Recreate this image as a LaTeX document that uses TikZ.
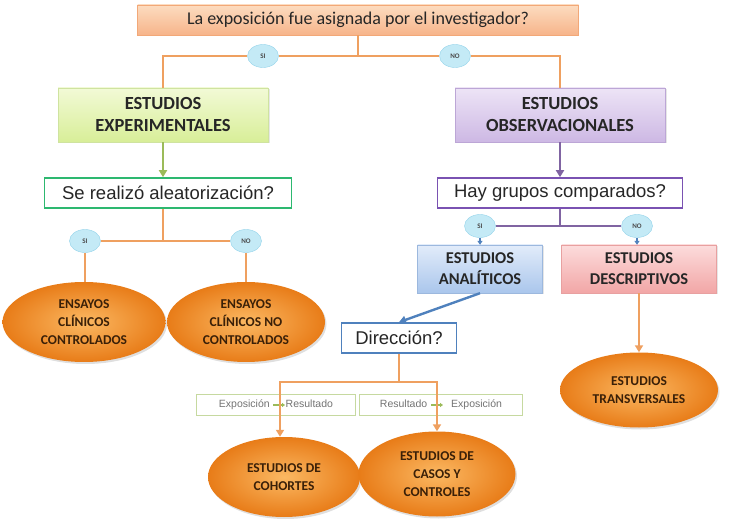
\documentclass[tikz,border=0pt]{standalone}
\usepackage{fontspec}
\setmainfont{Carlito}
\newfontfamily\arialfont{Liberation Sans}
\usetikzlibrary{shapes.geometric, shadows, arrows.meta}

\definecolor{peachtop}{HTML}{FCDCC0}
\definecolor{peachbot}{HTML}{F7B48A}
\definecolor{peachedge}{HTML}{F2A878}
\definecolor{linkorange}{HTML}{EFA060}
\definecolor{bubblefill}{HTML}{C4EAF6}
\definecolor{bubbleedge}{HTML}{93D3EA}
\definecolor{limetop}{HTML}{F2FAD6}
\definecolor{limebot}{HTML}{D8EE98}
\definecolor{limeedge}{HTML}{CFE3A0}
\definecolor{lilactop}{HTML}{EDE4F6}
\definecolor{lilacbot}{HTML}{CDB8E4}
\definecolor{lilacedge}{HTML}{BCA6D6}
\definecolor{skytop}{HTML}{E2ECFA}
\definecolor{skybot}{HTML}{AAC6EC}
\definecolor{skyedge}{HTML}{9CB8DE}
\definecolor{rosetop}{HTML}{FCDCDC}
\definecolor{rosebot}{HTML}{F2A6A6}
\definecolor{roseedge}{HTML}{E8A0A0}
\definecolor{leafgreen}{HTML}{9BBB59}
\definecolor{askgreen}{HTML}{2DB870}
\definecolor{plum}{HTML}{8064A2}
\definecolor{askplum}{HTML}{7A52B2}
\definecolor{steel}{HTML}{4F81BD}
\definecolor{palegreen}{HTML}{C6D9A0}
\definecolor{ovalin}{HTML}{FBB862}
\definecolor{ovalout}{HTML}{E87C18}
\definecolor{ovaltext}{HTML}{3A2008}

\begin{document}
\begin{tikzpicture}[x=1pt, y=-1pt,
    topbox/.style={rectangle, draw=peachedge, top color=peachtop, bottom color=peachbot,
      minimum width=441pt, minimum height=30pt, font=\fontsize{18}{21}\selectfont, text=black!85},
    studybox/.style={rectangle, align=center, inner sep=0pt,
      text=black!85,
      drop shadow={opacity=0.2, shadow xshift=1.5pt, shadow yshift=-1.5pt}},
    askbox/.style={rectangle, draw, line width=1.6pt, fill=white, minimum height=30pt,
      inner sep=0pt, font=\arialfont\fontsize{18.5}{21}\selectfont, text=black!85},
    yesno/.style={ellipse, draw=bubbleedge, fill=bubblefill, minimum width=31pt,
      minimum height=23pt, inner sep=0pt, font=\bfseries\fontsize{7}{8}\selectfont, text=black!70},
    outcome/.style={ellipse, inner color=ovalin, outer color=ovalout, align=center,
      inner sep=0pt, font=\bfseries\fontsize{13.5}{18}\selectfont, text=ovaltext,
      drop shadow={opacity=0.25, shadow xshift=1.5pt, shadow yshift=-2pt}},
    dirbox/.style={rectangle, draw=palegreen, line width=1pt, fill=white,
      minimum height=20pt, font=\arialfont\fontsize{10.5}{12}\selectfont, text=black!55},
    link/.style={draw=linkorange, line width=2.6pt},
    tip/.style={-{Triangle[length=7pt, width=8pt]}}
  ]
  \useasboundingbox (0,0) rectangle (734,521);

  % Question at the top
  \node[topbox] (expo) at (358,20) {La exposición fue asignada por el investigador?};

  % Experimental / observational
  \node[studybox, draw=limeedge, top color=limetop, bottom color=limebot,
    minimum width=210pt, minimum height=54pt, font=\bfseries\fontsize{18.5}{22}\selectfont]
    (expe) at (163,115) {ESTUDIOS\\EXPERIMENTALES};
  \node[studybox, draw=lilacedge, top color=lilactop, bottom color=lilacbot,
    minimum width=210pt, minimum height=54pt, font=\bfseries\fontsize{18.5}{22}\selectfont]
    (obse) at (560,115) {ESTUDIOS\\OBSERVACIONALES};

  \node[yesno] (si1) at (263,56) {SI};
  \node[yesno] (no1) at (455,56) {NO};

  % Second level questions
  \node[askbox, draw=askgreen, minimum width=247pt] (alea) at (168,193) {Se realizó aleatorización?};
  \node[askbox, draw=askplum, minimum width=245pt] (grup) at (560,193) {Hay grupos comparados?};

  \node[yesno] (si2) at (85,241) {SI};
  \node[yesno] (no2) at (246,241) {NO};
  \node[yesno] (si3) at (480,226) {SI};
  \node[yesno] (no3) at (637,226) {NO};

  % Clinical trials
  \node[outcome, minimum width=163pt, minimum height=80pt] (ecc) at (84,322) {ENSAYOS\\CLÍNICOS\\CONTROLADOS};
  \node[outcome, minimum width=158pt, minimum height=80pt] (ecnc) at (246,322) {ENSAYOS\\CLÍNICOS NO\\CONTROLADOS};

  % Analytic / descriptive
  \node[studybox, draw=skyedge, top color=skytop, bottom color=skybot,
    minimum width=125pt, minimum height=48pt, font=\bfseries\fontsize{16.5}{21}\selectfont]
    (anal) at (480,269) {ESTUDIOS\\ANALÍTICOS};
  \node[studybox, draw=roseedge, top color=rosetop, bottom color=rosebot,
    minimum width=155pt, minimum height=48pt, font=\bfseries\fontsize{16.5}{21}\selectfont]
    (desc) at (639,269) {ESTUDIOS\\DESCRIPTIVOS};

  \node[askbox, draw=steel, minimum width=115pt] (dire) at (399,338) {Dirección?};

  \node[outcome, minimum width=158pt, minimum height=75pt] (tran) at (639,390) {ESTUDIOS\\TRANSVERSALES};

  % Direction labels
  \node[dirbox, minimum width=159pt] (exre) at (276,405) {Exposición\hspace{16pt}Resultado};
  \node[dirbox, minimum width=163pt] (reex) at (441,405) {Resultado\hspace{24pt}Exposición};
  \draw[leafgreen, line width=1.4pt, -{Triangle[length=3pt, width=4pt]}]
    ([xshift=-3pt]exre.center) -- ([xshift=9pt]exre.center);
  \draw[leafgreen, line width=1.4pt, -{Triangle[length=3pt, width=4pt]}]
    ([xshift=-10pt]reex.center) -- ([xshift=2pt]reex.center);

  \node[outcome, minimum width=152pt, minimum height=80pt] (coho) at (284,477) {ESTUDIOS DE\\COHORTES};
  \node[outcome, minimum width=157pt, minimum height=85pt] (caso) at (437,474) {ESTUDIOS DE\\CASOS Y\\CONTROLES};

  % Connectors, first level
  \draw[link] (expo.south) -- (expo.south |- si1);
  \draw[link] (expe.north) -- (expe.north |- si1) -- (si1) -- (no1) -- (obse.north |- no1) -- (obse.north);
  \draw[leafgreen, line width=2.6pt, tip] (expe.south) -- (alea.north -| expe.south);
  \draw[plum, line width=2.6pt, tip] (obse.south) -- (grup.north);

  % Connectors, randomisation
  \draw[link] (alea.south -| expe.south) -- (expe.south |- no2);
  \draw[link] (si2) -- (no2);
  \draw[link] (si2) -- (ecc.north -| si2);
  \draw[link] (no2) -- (ecnc.north -| no2);

  % Connectors, compared groups
  \draw[plum, line width=2.6pt] (grup.south) -- (grup.south |- si3);
  \draw[plum, line width=2.6pt] (si3) -- (no3);
  \draw[steel, line width=1.2pt, -{Triangle[length=4pt, width=5pt]}] (si3) -- (anal);
  \draw[steel, line width=1.2pt, -{Triangle[length=4pt, width=5pt]}] (no3) -- (desc.north -| no3);
  \draw[steel, line width=2.4pt, tip] (anal.south) -- (dire.north);
  \draw[link, tip] (desc.south) -- (tran.north);

  % Connectors, direction
  \coordinate (djoin) at (dire.south |- 0,382);
  \draw[link] (dire.south) -- (djoin);
  \draw[link, tip] (djoin) -| ([xshift=-4pt]coho.north);
  \draw[link, tip] (djoin) -| (caso.north);
\end{tikzpicture}
\end{document}
